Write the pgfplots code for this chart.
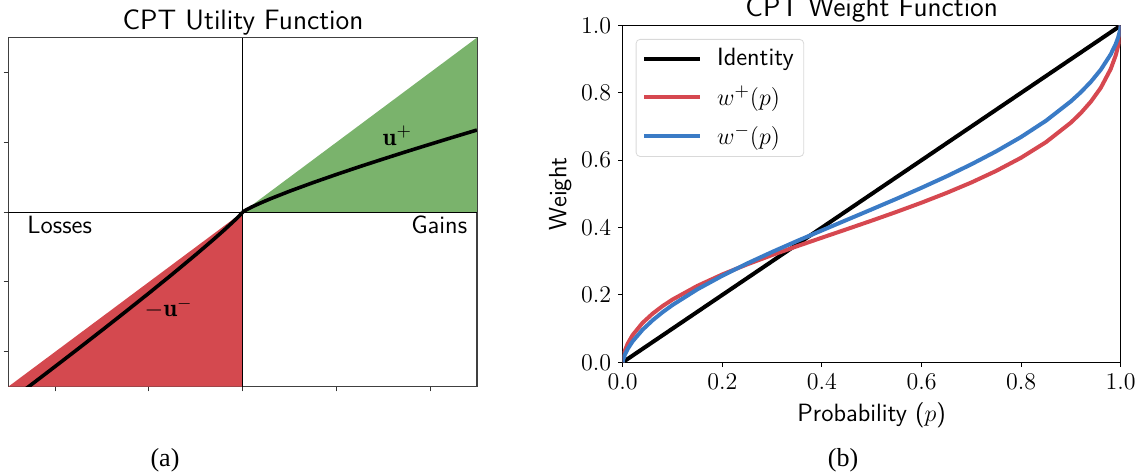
\documentclass[border=0pt]{standalone}
\usepackage{fontspec}
\usepackage{pgfplots}
\pgfplotsset{compat=1.18}
\renewcommand{\familydefault}{\sfdefault}
\newfontfamily\timesfont{Liberation Serif}
\definecolor{ugreen}{RGB}{122,179,108}
\definecolor{ured}{RGB}{212,73,79}
\definecolor{wred}{RGB}{214,72,80}
\definecolor{wblue}{RGB}{58,123,198}
\newcommand{\fs}{\fontsize{12.5}{15}\selectfont}
\newcommand{\ft}{\fontsize{12}{14}\selectfont}
\newcommand{\ftitle}{\fontsize{14}{17}\selectfont}
\begin{document}
\begin{tikzpicture}
% ---------------- Left panel ----------------
\begin{axis}[
  at={(4.15pt,44.15pt)}, anchor=south west,
  scale only axis, width=234.3pt, height=174.5pt,
  xmin=-2.5, xmax=2.5, ymin=-2.5, ymax=2.5,
  xtick={-2,-1,0,1,2}, ytick={-2,-1,0,1,2},
  xticklabels={}, yticklabels={},
  tick align=outside, xtick pos=bottom, ytick pos=left,
  major tick length=2.3pt,
  tick style={black!80, line width=0.5pt},
  axis line style={black!75, line width=0.7pt},
  font=\fs, clip=true,
]
\addplot[fill=ugreen, draw=none] coordinates {(0,0) (2.5,2.5) (2.5,0) (0,0)};
\addplot[fill=ured, draw=none] coordinates {(0,0) (-2.5,-2.5) (0,-2.5) (0,0)};
\addplot[black, line width=0.5pt] coordinates {(-2.5,0) (2.5,0)};
\addplot[black, line width=0.5pt] coordinates {(0,-2.5) (0,2.5)};
\addplot[black, line width=1.8pt] coordinates {
(0,0) (0.01,0.011) (0.05,0.042) (0.1,0.076) (0.2,0.137) (0.3,0.194) (0.5,0.300)
(0.75,0.423) (1.0,0.540) (1.25,0.653) (1.5,0.762) (1.75,0.869) (2.0,0.973)
(2.25,1.076) (2.5,1.177)};
\addplot[black, line width=1.8pt] coordinates {
(0,0) (-0.01,-0.016) (-0.05,-0.072) (-0.1,-0.136) (-0.2,-0.260) (-0.3,-0.379)
(-0.5,-0.609) (-0.75,-0.888) (-1.0,-1.160) (-1.25,-1.427) (-1.5,-1.691)
(-1.75,-1.952) (-2.0,-2.210) (-2.25,-2.466) (-2.5,-2.720)};
\node[anchor=base west, inner sep=0pt, font=\fs] at (axis cs:-2.30,-0.30) {Losses};
\node[anchor=base east, inner sep=0pt, font=\fs] at (axis cs:2.40,-0.30) {Gains};
\node[anchor=base west, inner sep=0pt, font=\fs] at (axis cs:1.49,0.96) {$\mathbf{u}^{+}$};
\node[anchor=base west, inner sep=0pt, font=\fs] at (axis cs:-1.05,-1.50) {$-\mathbf{u}^{-}$};
\end{axis}
\node[anchor=base, font=\ftitle] at (121.5pt,222.5pt) {CPT Utility Function};
\node[anchor=base, font=\fontsize{13}{15}\timesfont] at (82.5pt,4pt) {(a)};
% ---------------- Right panel ----------------
\begin{axis}[
  at={(311.35pt,56.35pt)}, anchor=south west,
  scale only axis, width=249pt, height=168.4pt,
  xmin=0, xmax=1, ymin=0, ymax=1,
  xtick={0,0.2,0.4,0.6,0.8,1.0}, ytick={0,0.2,0.4,0.6,0.8,1.0},
  xticklabel style={/pgf/number format/.cd, fixed, fixed zerofill, precision=1},
  yticklabel style={/pgf/number format/.cd, fixed, fixed zerofill, precision=1},
  tick align=outside, xtick pos=bottom, ytick pos=left,
  major tick length=2.2pt,
  tick style={black, line width=0.5pt},
  axis line style={black, line width=0.6pt},
  font=\fs, tick label style={font=\ft},
  xlabel={Probability ($p$)}, ylabel={Weight},
  xlabel style={font=\fs},
  ylabel style={font=\fs, yshift=-2pt},
  legend cell align=left,
  legend style={at={(0,1)}, anchor=north west, xshift=6.5pt, yshift=-6.75pt,
    draw=black!15, rounded corners=2pt, font=\fs, row sep=4.5pt,
    inner xsep=3pt, inner ysep=2.5pt,
    /tikz/every odd column/.append style={column sep=5.5pt}},
  legend image code/.code={\draw[#1] (0pt,0pt) -- (28pt,0pt);},
]
\addplot[black, line width=2pt] coordinates {(0,0) (1,1)};
\addlegendentry{Identity}
\addplot[wred, line width=2pt] coordinates {
(0,0) (0.001,0.0145) (0.005,0.0372) (0.01,0.0553) (0.02,0.0811) (0.04,0.1173)
(0.06,0.1444) (0.08,0.1669) (0.1,0.1863) (0.15,0.2269) (0.2,0.2608) (0.25,0.2908)
(0.3,0.3184) (0.35,0.3446) (0.4,0.3700) (0.45,0.3952) (0.5,0.4206) (0.55,0.4467)
(0.6,0.4739) (0.65,0.5027) (0.7,0.5338) (0.75,0.5683) (0.8,0.6074) (0.85,0.6537)
(0.9,0.7117) (0.92,0.7403) (0.94,0.7738) (0.96,0.8150) (0.98,0.8711)
(0.99,0.9116) (0.995,0.9402) (0.999,0.9766) (1,1)};
\addlegendentry{$w^{+}(p)$}
\addplot[wblue, line width=2pt] coordinates {
(0,0) (0.001,0.0084) (0.005,0.0250) (0.01,0.0397) (0.02,0.0624) (0.04,0.0969)
(0.06,0.1247) (0.08,0.1487) (0.1,0.1701) (0.15,0.2167) (0.2,0.2570) (0.25,0.2935)
(0.3,0.3276) (0.35,0.3601) (0.4,0.3916) (0.45,0.4228) (0.5,0.4540) (0.55,0.4856)
(0.6,0.5181) (0.65,0.5519) (0.7,0.5878) (0.75,0.6264) (0.8,0.6690) (0.85,0.7173)
(0.9,0.7749) (0.92,0.8020) (0.94,0.8327) (0.96,0.8688) (0.98,0.9145)
(0.99,0.9451) (0.995,0.9651) (0.999,0.9881) (1,1)};
\addlegendentry{$w^{-}(p)$}
\end{axis}
\node[anchor=base, font=\ftitle] at (435.85pt,229pt) {CPT Weight Function};
\node[anchor=base, font=\fontsize{13}{15}\timesfont] at (421.5pt,4pt) {(b)};
\pgfresetboundingbox
\useasboundingbox (0,0) rectangle (571.5pt,237.5pt);
\end{tikzpicture}
\end{document}
